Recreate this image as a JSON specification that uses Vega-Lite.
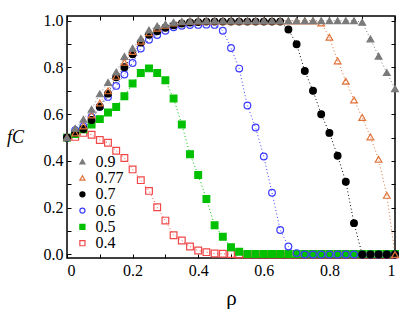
{
"$schema":"https://vega.github.io/schema/vega-lite/v6.json",
"width":328,"height":242,
"autosize":{"type":"none"},
"padding":{"left":67,"top":16,"right":14,"bottom":51},
"config":{"view":{"stroke":"black","strokeWidth":1.5},"font":"Liberation Serif",
 "axis":{"grid":false,"domain":false,"tickColor":"black","tickSize":-4,"tickWidth":1,"labelFont":"Liberation Serif","labelFontSize":16,"labelColor":"black","titleFont":"Liberation Serif","titleColor":"black","titleFontWeight":"normal"}},
"datasets":{"series":[{"s":"0.9"},{"s":"0.77"},{"s":"0.7"},{"s":"0.6"},{"s":"0.5"},{"s":"0.4"}]},
"data":{"values":[
{"s":"0.4","r":0,"f":0.5},{"s":"0.4","r":0.025,"f":0.503},{"s":"0.4","r":0.05,"f":0.52},{"s":"0.4","r":0.075,"f":0.512},{"s":"0.4","r":0.1,"f":0.49},{"s":"0.4","r":0.125,"f":0.478},{"s":"0.4","r":0.15,"f":0.444},{"s":"0.4","r":0.175,"f":0.413},{"s":"0.4","r":0.2,"f":0.364},{"s":"0.4","r":0.225,"f":0.318},{"s":"0.4","r":0.25,"f":0.272},{"s":"0.4","r":0.275,"f":0.202},{"s":"0.4","r":0.3,"f":0.145},{"s":"0.4","r":0.325,"f":0.082},{"s":"0.4","r":0.35,"f":0.06},{"s":"0.4","r":0.375,"f":0.034},{"s":"0.4","r":0.4,"f":0.017},{"s":"0.4","r":0.425,"f":0.01},{"s":"0.4","r":0.45,"f":0.004},{"s":"0.4","r":0.475,"f":0.003},{"s":"0.4","r":0.5,"f":0.002},{"s":"0.4","r":0.525,"f":0},{"s":"0.4","r":0.55,"f":0},{"s":"0.4","r":0.575,"f":0},{"s":"0.4","r":0.6,"f":0},{"s":"0.4","r":0.625,"f":0},{"s":"0.4","r":0.65,"f":0},{"s":"0.4","r":0.675,"f":0},{"s":"0.4","r":0.7,"f":0},{"s":"0.4","r":0.725,"f":0},{"s":"0.4","r":0.75,"f":0},{"s":"0.4","r":0.775,"f":0},{"s":"0.4","r":0.8,"f":0},{"s":"0.4","r":0.825,"f":0},{"s":"0.4","r":0.85,"f":0},{"s":"0.4","r":0.875,"f":0},{"s":"0.4","r":0.9,"f":0},{"s":"0.4","r":0.925,"f":0},{"s":"0.4","r":0.95,"f":0},{"s":"0.4","r":0.975,"f":0},{"s":"0.4","r":1,"f":0},
{"s":"0.5","r":0,"f":0.5},{"s":"0.5","r":0.025,"f":0.515},{"s":"0.5","r":0.05,"f":0.535},{"s":"0.5","r":0.075,"f":0.556},{"s":"0.5","r":0.1,"f":0.579},{"s":"0.5","r":0.125,"f":0.607},{"s":"0.5","r":0.15,"f":0.631},{"s":"0.5","r":0.175,"f":0.677},{"s":"0.5","r":0.2,"f":0.731},{"s":"0.5","r":0.225,"f":0.776},{"s":"0.5","r":0.25,"f":0.796},{"s":"0.5","r":0.275,"f":0.776},{"s":"0.5","r":0.3,"f":0.745},{"s":"0.5","r":0.325,"f":0.667},{"s":"0.5","r":0.35,"f":0.556},{"s":"0.5","r":0.375,"f":0.429},{"s":"0.5","r":0.4,"f":0.34},{"s":"0.5","r":0.425,"f":0.237},{"s":"0.5","r":0.45,"f":0.125},{"s":"0.5","r":0.475,"f":0.076},{"s":"0.5","r":0.5,"f":0.031},{"s":"0.5","r":0.525,"f":0.012},{"s":"0.5","r":0.55,"f":0.002},{"s":"0.5","r":0.575,"f":0.002},{"s":"0.5","r":0.6,"f":0.002},{"s":"0.5","r":0.625,"f":0.002},{"s":"0.5","r":0.65,"f":0.002},{"s":"0.5","r":0.675,"f":0.002},{"s":"0.5","r":0.7,"f":0.002},{"s":"0.5","r":0.725,"f":0.002},{"s":"0.5","r":0.75,"f":0.002},{"s":"0.5","r":0.775,"f":0.002},{"s":"0.5","r":0.8,"f":0.002},{"s":"0.5","r":0.825,"f":0.002},{"s":"0.5","r":0.85,"f":0.002},{"s":"0.5","r":0.875,"f":0.002},{"s":"0.5","r":0.9,"f":0.002},{"s":"0.5","r":0.925,"f":0.002},{"s":"0.5","r":0.95,"f":0.002},{"s":"0.5","r":0.975,"f":0.002},{"s":"0.5","r":1,"f":0.002},
{"s":"0.6","r":0,"f":0.5},{"s":"0.6","r":0.025,"f":0.532},{"s":"0.6","r":0.05,"f":0.548},{"s":"0.6","r":0.075,"f":0.588},{"s":"0.6","r":0.1,"f":0.632},{"s":"0.6","r":0.125,"f":0.674},{"s":"0.6","r":0.15,"f":0.721},{"s":"0.6","r":0.175,"f":0.77},{"s":"0.6","r":0.2,"f":0.819},{"s":"0.6","r":0.225,"f":0.881},{"s":"0.6","r":0.25,"f":0.918},{"s":"0.6","r":0.275,"f":0.939},{"s":"0.6","r":0.3,"f":0.957},{"s":"0.6","r":0.325,"f":0.972},{"s":"0.6","r":0.35,"f":0.978},{"s":"0.6","r":0.375,"f":0.981},{"s":"0.6","r":0.4,"f":0.982},{"s":"0.6","r":0.425,"f":0.983},{"s":"0.6","r":0.45,"f":0.982},{"s":"0.6","r":0.475,"f":0.957},{"s":"0.6","r":0.5,"f":0.883},{"s":"0.6","r":0.525,"f":0.795},{"s":"0.6","r":0.55,"f":0.637},{"s":"0.6","r":0.575,"f":0.543},{"s":"0.6","r":0.6,"f":0.419},{"s":"0.6","r":0.625,"f":0.264},{"s":"0.6","r":0.65,"f":0.105},{"s":"0.6","r":0.675,"f":0.034},{"s":"0.6","r":0.7,"f":0.006},{"s":"0.6","r":0.725,"f":0},{"s":"0.6","r":0.75,"f":0},{"s":"0.6","r":0.775,"f":0},{"s":"0.6","r":0.8,"f":0},{"s":"0.6","r":0.825,"f":0},{"s":"0.6","r":0.85,"f":0},{"s":"0.6","r":0.875,"f":0},{"s":"0.6","r":0.9,"f":0},{"s":"0.6","r":0.925,"f":0},{"s":"0.6","r":0.95,"f":0},{"s":"0.6","r":0.975,"f":0},{"s":"0.6","r":1,"f":0},
{"s":"0.7","r":0,"f":0.5},{"s":"0.7","r":0.025,"f":0.52},{"s":"0.7","r":0.05,"f":0.537},{"s":"0.7","r":0.075,"f":0.575},{"s":"0.7","r":0.1,"f":0.632},{"s":"0.7","r":0.125,"f":0.688},{"s":"0.7","r":0.15,"f":0.758},{"s":"0.7","r":0.175,"f":0.801},{"s":"0.7","r":0.2,"f":0.856},{"s":"0.7","r":0.225,"f":0.907},{"s":"0.7","r":0.25,"f":0.94},{"s":"0.7","r":0.275,"f":0.955},{"s":"0.7","r":0.3,"f":0.97},{"s":"0.7","r":0.325,"f":0.98},{"s":"0.7","r":0.35,"f":0.988},{"s":"0.7","r":0.375,"f":0.992},{"s":"0.7","r":0.4,"f":0.994},{"s":"0.7","r":0.425,"f":0.996},{"s":"0.7","r":0.45,"f":0.996},{"s":"0.7","r":0.475,"f":0.996},{"s":"0.7","r":0.5,"f":0.996},{"s":"0.7","r":0.525,"f":0.996},{"s":"0.7","r":0.55,"f":0.996},{"s":"0.7","r":0.575,"f":0.996},{"s":"0.7","r":0.6,"f":0.996},{"s":"0.7","r":0.625,"f":0.996},{"s":"0.7","r":0.65,"f":0.996},{"s":"0.7","r":0.675,"f":0.962},{"s":"0.7","r":0.7,"f":0.899},{"s":"0.7","r":0.725,"f":0.785},{"s":"0.7","r":0.75,"f":0.7},{"s":"0.7","r":0.775,"f":0.6},{"s":"0.7","r":0.8,"f":0.52},{"s":"0.7","r":0.825,"f":0.422},{"s":"0.7","r":0.85,"f":0.311},{"s":"0.7","r":0.875,"f":0.134},{"s":"0.7","r":0.9,"f":0},{"s":"0.7","r":0.925,"f":0},{"s":"0.7","r":0.95,"f":0},{"s":"0.7","r":0.975,"f":0},{"s":"0.7","r":1,"f":0},
{"s":"0.77","r":0,"f":0.5},{"s":"0.77","r":0.025,"f":0.52},{"s":"0.77","r":0.05,"f":0.55},{"s":"0.77","r":0.075,"f":0.597},{"s":"0.77","r":0.1,"f":0.648},{"s":"0.77","r":0.125,"f":0.7},{"s":"0.77","r":0.15,"f":0.762},{"s":"0.77","r":0.175,"f":0.822},{"s":"0.77","r":0.2,"f":0.868},{"s":"0.77","r":0.225,"f":0.912},{"s":"0.77","r":0.25,"f":0.948},{"s":"0.77","r":0.275,"f":0.968},{"s":"0.77","r":0.3,"f":0.98},{"s":"0.77","r":0.325,"f":0.99},{"s":"0.77","r":0.35,"f":0.995},{"s":"0.77","r":0.375,"f":0.998},{"s":"0.77","r":0.4,"f":0.999},{"s":"0.77","r":0.425,"f":0.999},{"s":"0.77","r":0.45,"f":0.999},{"s":"0.77","r":0.475,"f":0.999},{"s":"0.77","r":0.5,"f":0.999},{"s":"0.77","r":0.525,"f":0.999},{"s":"0.77","r":0.55,"f":0.999},{"s":"0.77","r":0.575,"f":0.999},{"s":"0.77","r":0.6,"f":0.999},{"s":"0.77","r":0.625,"f":0.999},{"s":"0.77","r":0.65,"f":0.999},{"s":"0.77","r":0.675,"f":0.999},{"s":"0.77","r":0.7,"f":0.999},{"s":"0.77","r":0.725,"f":0.999},{"s":"0.77","r":0.75,"f":0.999},{"s":"0.77","r":0.775,"f":0.99},{"s":"0.77","r":0.8,"f":0.929},{"s":"0.77","r":0.825,"f":0.828},{"s":"0.77","r":0.85,"f":0.741},{"s":"0.77","r":0.875,"f":0.661},{"s":"0.77","r":0.9,"f":0.586},{"s":"0.77","r":0.925,"f":0.503},{"s":"0.77","r":0.95,"f":0.407},{"s":"0.77","r":0.975,"f":0.253},{"s":"0.77","r":1,"f":0},
{"s":"0.9","r":0,"f":0.5},{"s":"0.9","r":0.025,"f":0.54},{"s":"0.9","r":0.05,"f":0.578},{"s":"0.9","r":0.075,"f":0.621},{"s":"0.9","r":0.1,"f":0.687},{"s":"0.9","r":0.125,"f":0.736},{"s":"0.9","r":0.15,"f":0.78},{"s":"0.9","r":0.175,"f":0.847},{"s":"0.9","r":0.2,"f":0.882},{"s":"0.9","r":0.225,"f":0.924},{"s":"0.9","r":0.25,"f":0.96},{"s":"0.9","r":0.275,"f":0.977},{"s":"0.9","r":0.3,"f":0.985},{"s":"0.9","r":0.325,"f":0.993},{"s":"0.9","r":0.35,"f":0.996},{"s":"0.9","r":0.375,"f":0.998},{"s":"0.9","r":0.4,"f":1},{"s":"0.9","r":0.425,"f":1},{"s":"0.9","r":0.45,"f":1},{"s":"0.9","r":0.475,"f":1},{"s":"0.9","r":0.5,"f":1},{"s":"0.9","r":0.525,"f":1},{"s":"0.9","r":0.55,"f":1},{"s":"0.9","r":0.575,"f":1},{"s":"0.9","r":0.6,"f":1},{"s":"0.9","r":0.625,"f":1},{"s":"0.9","r":0.65,"f":1},{"s":"0.9","r":0.675,"f":1},{"s":"0.9","r":0.7,"f":1},{"s":"0.9","r":0.725,"f":1},{"s":"0.9","r":0.75,"f":1},{"s":"0.9","r":0.775,"f":1},{"s":"0.9","r":0.8,"f":1},{"s":"0.9","r":0.825,"f":1},{"s":"0.9","r":0.85,"f":1},{"s":"0.9","r":0.875,"f":1},{"s":"0.9","r":0.9,"f":0.993},{"s":"0.9","r":0.925,"f":0.922},{"s":"0.9","r":0.95,"f":0.848},{"s":"0.9","r":0.975,"f":0.778},{"s":"0.9","r":1,"f":0.709}
]},
"layer":[
 {"mark":{"type":"line","strokeDash":[1,2.5],"strokeWidth":1},
  "encoding":{
   "x":{"field":"r","type":"quantitative","scale":{"domain":[0,1],"nice":false,"zero":false},
        "axis":{"orient":"bottom","values":[0,0.1,0.2,0.3,0.4,0.5,0.6,0.7,0.8,0.9,1],"labelExpr":"round(datum.value*10)%2==0 ? format(datum.value,'~g') : ''","labelPadding":8,"title":"ρ","titleFontSize":21,"titleY":40,"titleBaseline":"middle"}},
   "y":{"field":"f","type":"quantitative","scale":{"domain":[-0.015,1.02],"nice":false,"zero":false},
        "axis":{"orient":"left","values":[0,0.1,0.2,0.3,0.4,0.5,0.6,0.7,0.8,0.9,1],"labelExpr":"round(datum.value*10)%2==0 ? format(datum.value,'.1f') : ''","labelPadding":8,"title":"fC","titleFontSize":18,"titleFontStyle":"italic","titleAngle":0,"titleX":-52,"titleY":121,"titleAlign":"center","titleBaseline":"middle"}},
   "detail":{"field":"s","type":"nominal"},
   "stroke":{"field":"s","type":"nominal","legend":null,"scale":{"domain":["0.9","0.77","0.7","0.6","0.5","0.4"],"range":["#7a7a7a","#e0733a","#000000","#3c3cff","#00c000","#f04848"]}}
  }},
 {"mark":{"type":"point","size":45,"strokeWidth":1.2,"opacity":1},
  "encoding":{
   "x":{"field":"r","type":"quantitative","axis":{"orient":"top","values":[0,0.1,0.2,0.3,0.4,0.5,0.6,0.7,0.8,0.9,1],"labels":false,"title":null}},
   "y":{"field":"f","type":"quantitative","scale":{"domain":[-0.015,1.02],"nice":false,"zero":false},"axis":{"orient":"right","values":[0,0.1,0.2,0.3,0.4,0.5,0.6,0.7,0.8,0.9,1],"labels":false,"title":null}},
   "color":{"field":"s","type":"nominal","legend":null,"scale":{"domain":["0.9","0.77","0.7","0.6","0.5","0.4"],"range":["#7a7a7a","#e0733a","#000000","#3c3cff","#00c000","#f04848"]}},
   "shape":{"field":"s","type":"nominal","legend":null,"scale":{"domain":["0.9","0.77","0.7","0.6","0.5","0.4"],"range":["triangle-up","triangle-up","circle","circle","square","square"]}},
   "fill":{"field":"s","type":"nominal","legend":null,"scale":{"domain":["0.9","0.77","0.7","0.6","0.5","0.4"],"range":["#7a7a7a","#ffffff00","#000000","#ffffff00","#00c000","#ffffff00"]}}
  }},
 {"data":{"name":"series"},
  "mark":{"type":"point","size":26,"strokeWidth":1.2,"opacity":1},
  "encoding":{
   "x":{"datum":0.047,"type":"quantitative","axis":null},
   "y":{"field":"s","type":"ordinal","sort":null,"scale":{"type":"point","domain":["_1","_2","_3","_4","_5","_6","_7","_8","0.9","0.77","0.7","0.6","0.5","0.4"],"padding":0.923,"align":0.508},"axis":null},
   "color":{"field":"s","type":"nominal","legend":null},
   "shape":{"field":"s","type":"nominal","legend":null},
   "fill":{"field":"s","type":"nominal","legend":null}
  }},
 {"data":{"name":"series"},
  "mark":{"type":"text","align":"left","baseline":"middle","font":"Liberation Serif","fontSize":16,"color":"black"},
  "encoding":{
   "x":{"datum":0.087,"type":"quantitative","axis":null},
   "y":{"field":"s","type":"ordinal","sort":null,"scale":{"type":"point","domain":["_1","_2","_3","_4","_5","_6","_7","_8","0.9","0.77","0.7","0.6","0.5","0.4"],"padding":0.923,"align":0.508},"axis":null},
   "text":{"field":"s"}
  }}
],
"resolve":{"scale":{"y":"independent"},"axis":{"x":"independent","y":"independent"}}
}
